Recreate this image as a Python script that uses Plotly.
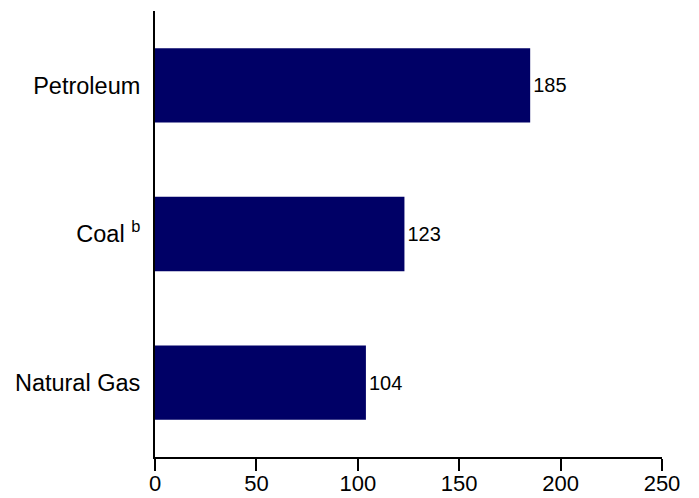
import plotly.graph_objects as go

# Fuel categories, bottom to top
fuels = ['Natural Gas', 'Coal <sup>b</sup>', 'Petroleum']
values = [104, 123, 185]
x_ticks = [0, 50, 100, 150, 200, 250]

fig = go.Figure()

fig.add_trace(go.Bar(
    x=values,
    y=fuels,
    orientation='h',
    width=0.5,
    marker=dict(color='#000066', line=dict(width=0)),
    text=[str(v) for v in values],
    textposition='outside',
    textfont=dict(family='Liberation Sans, Arial', size=20, color='black'),
    cliponaxis=False,
))

# the page adds an 8px body margin, so the figure is drawn 8px smaller
fig.update_layout(
    width=691,
    height=490,
    margin=dict(l=147, r=37, t=3, b=41),
    plot_bgcolor='white',
    paper_bgcolor='white',
    showlegend=False,
    font=dict(family='Liberation Sans, Arial', color='black'),
    xaxis=dict(
        range=[0, 250],
        tickvals=x_ticks,
        ticks='outside',
        ticklen=12,
        tickwidth=2,
        tickcolor='black',
        showline=True,
        linecolor='black',
        linewidth=2,
        showgrid=False,
        zeroline=False,
        automargin=False,
        ticklabelstandoff=-6,
        tickfont=dict(size=22),
    ),
    yaxis=dict(
        range=[-0.5, 2.5],
        showline=True,
        linecolor='black',
        linewidth=2,
        showgrid=False,
        zeroline=False,
        automargin=False,
        ticks='',
        ticklabelstandoff=8,
        tickfont=dict(size=23.5),
    ),
)

fig.write_html("out.html")
